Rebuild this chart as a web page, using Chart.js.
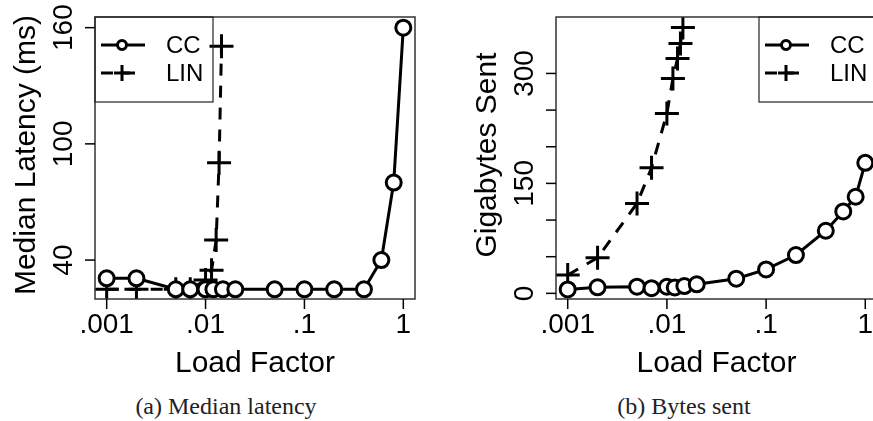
<!DOCTYPE html>
<html>
<head>
<meta charset="utf-8">
<script src="https://cdn.jsdelivr.net/npm/chart.js@4/dist/chart.umd.min.js"></script>
<style>
    html, body { margin: 0; padding: 0; background: #fff; overflow: hidden; }
    body { width: 873px; height: 421px; position: relative; }
    canvas { position: absolute; top: 0; }
    #latencyChart { left: 0; }
    #bytesChart { left: 440px; }
    .caption {
        position: absolute;
        top: 394px;
        width: 452px;
        text-align: center;
        font: 24px "Liberation Serif", "DejaVu Serif", serif;
        line-height: 24px;
        color: #222;
    }
</style>
</head>
<body>
<canvas id="latencyChart" width="440" height="380"></canvas>
<canvas id="bytesChart" width="445" height="380"></canvas>
<div class="caption" style="left: 0;">(a) Median latency</div>
<div class="caption" style="left: 458px;">(b) Bytes sent</div>

<script>
// load factors used for each run
const ccLoad = [0.001, 0.002, 0.005, 0.007, 0.01, 0.012, 0.015, 0.02, 0.05, 0.1, 0.2, 0.4, 0.6, 0.8, 1];
const linLoad = [0.001, 0.002, 0.005, 0.007, 0.01, 0.0115, 0.0128, 0.0137, 0.0145];

// (a) median latency, ms
const latencyCC = [30.6, 30.6, 24.9, 24.9, 24.9, 24.9, 24.9, 24.9, 24.9, 24.9, 24.9, 24.9, 40, 80, 160];
const latencyLIN = [24.9, 24.9, 24.9, 24.9, 29.7, 34.8, 50.3, 90.2, 150.4];

// (b) gigabytes sent
const bytesCC = [5.4, 8.2, 9.1, 7, 9, 8, 10, 12.3, 20, 32.7, 52.3, 85.4, 111.8, 131.8, 178];
const bytesLIN = [25, 48.6, 122.7, 171.3, 245.5, 293, 320.5, 341, 362.7];

// axis ticks
const xTicks = [0.001, 0.01, 0.1, 1];
const xTickLabels = ['.001', '.01', '.1', '1'];
const latencyTicks = [40, 100, 160];
const latencyTickLabels = ['40', '100', '160'];
const bytesTicks = [0, 50, 100, 150, 200, 250, 300];
const bytesTickLabels = ['0', '', '', '150', '', '', '300'];

const seriesNames = ['CC', 'LIN'];

const SANS = '"Liberation Sans", Arial, Helvetica, sans-serif';

function pts(xs, ys) {
    return xs.map((v, i) => ({ x: v, y: ys[i] }));
}

function strokeLine(ctx, x1, y1, x2, y2) {
    ctx.beginPath();
    ctx.moveTo(x1, y1);
    ctx.lineTo(x2, y2);
    ctx.stroke();
}

function drawSymbol(ctx, style, cx, cy, r) {
    ctx.beginPath();
    if (style === 'circle') {
        ctx.arc(cx, cy, r, 0, Math.PI * 2);
        ctx.fillStyle = '#fff';
        ctx.fill();
        ctx.stroke();
    } else {
        ctx.moveTo(cx - r, cy);
        ctx.lineTo(cx + r, cy);
        ctx.moveTo(cx, cy - r);
        ctx.lineTo(cx, cy + r);
        ctx.stroke();
    }
}

// R style box, ticks, labels and legend
const rAxesPlugin = {
    id: 'rAxes',
    afterDraw(chart, args, opts) {
        const ctx = chart.ctx;
        const a = chart.chartArea;
        const xs = chart.scales.x;
        const ys = chart.scales.y;
        ctx.save();

        ctx.strokeStyle = '#333';
        ctx.lineWidth = 1.5;
        ctx.strokeRect(a.left, a.top, a.right - a.left, a.bottom - a.top);

        ctx.strokeStyle = '#000';
        ctx.fillStyle = '#000';
        ctx.lineWidth = 1.5;

        // x axis
        ctx.font = '28px ' + SANS;
        ctx.textAlign = 'center';
        ctx.textBaseline = 'alphabetic';
        xTicks.forEach((v, i) => {
            const px = xs.getPixelForValue(v);
            strokeLine(ctx, px, a.bottom, px, a.bottom + 10);
            ctx.fillText(xTickLabels[i], px, a.bottom + 34);
        });
        ctx.font = '30px ' + SANS;
        ctx.fillText(opts.xTitle, (a.left + a.right) / 2, a.bottom + 73);

        // y axis
        ctx.font = '28px ' + SANS;
        opts.yTicks.forEach((v, i) => {
            const py = ys.getPixelForValue(v);
            strokeLine(ctx, a.left - 10, py, a.left, py);
            if (opts.yLabels[i]) {
                ctx.save();
                ctx.translate(a.left - 23, py);
                ctx.rotate(-Math.PI / 2);
                ctx.fillText(opts.yLabels[i], 0, 0);
                ctx.restore();
            }
        });
        ctx.save();
        ctx.font = '30px ' + SANS;
        ctx.translate(a.left - 60, (a.top + a.bottom) / 2 - 3);
        ctx.rotate(-Math.PI / 2);
        ctx.fillText(opts.yTitle, 0, 0);
        ctx.restore();

        // legend
        const lw = 118, lh = 85;
        const lx = opts.legendSide === 'left' ? a.left : a.right - lw;
        ctx.lineWidth = 1.2;
        ctx.strokeStyle = '#222';
        ctx.strokeRect(lx, a.top, lw, lh);
        ctx.font = '24px ' + SANS;
        ctx.textAlign = 'left';
        ctx.textBaseline = 'middle';
        chart.data.datasets.forEach((ds, i) => {
            const ly = a.top + 28 + i * 28;
            ctx.strokeStyle = '#000';
            ctx.lineWidth = 3;
            ctx.setLineDash(ds.borderDash || []);
            strokeLine(ctx, lx + 6, ly, lx + 50, ly);
            ctx.setLineDash([]);
            drawSymbol(ctx, ds.pointStyle, lx + 27, ly, ds.pointStyle === 'circle' ? 4.5 : 8);
            ctx.fillStyle = '#000';
            ctx.fillText(ds.label, lx + 71, ly + 1);
        });

        ctx.restore();
    }
};

function makeDatasets(ccY, linY) {
    return [
        {
            label: seriesNames[0],
            data: pts(ccLoad, ccY),
            borderColor: '#000',
            borderWidth: 3,
            pointStyle: 'circle',
            pointRadius: 7.5,
            pointBorderWidth: 3,
            pointBackgroundColor: '#fff',
            pointBorderColor: '#000',
            tension: 0
        },
        {
            label: seriesNames[1],
            data: pts(linLoad, linY),
            borderColor: '#000',
            borderWidth: 3,
            borderDash: [12, 10],
            pointStyle: 'cross',
            pointRadius: 12,
            pointBorderWidth: 3,
            pointBorderColor: '#000',
            tension: 0
        }
    ];
}

function makeChart(id, cfg) {
    return new Chart(document.getElementById(id), {
        type: 'line',
        data: { datasets: makeDatasets(cfg.cc, cfg.lin) },
        options: {
            responsive: false,
            animation: false,
            devicePixelRatio: 1,
            layout: {
                autoPadding: false,
                padding: { top: 17, right: cfg.padRight, left: 0, bottom: 0 }
            },
            plugins: {
                legend: { display: false },
                tooltip: { enabled: false },
                rAxes: {
                    xTitle: 'Load Factor',
                    yTitle: cfg.yTitle,
                    yTicks: cfg.yTicks,
                    yLabels: cfg.yLabels,
                    legendSide: cfg.legendSide
                }
            },
            scales: {
                x: {
                    type: 'logarithmic',
                    bounds: 'data',
                    min: 0.000762,
                    max: 1.313,
                    grid: { display: false },
                    border: { display: false },
                    ticks: { display: false },
                    afterFit: function(scale) { scale.height = 81; }
                },
                y: {
                    type: 'linear',
                    min: cfg.yMin,
                    max: cfg.yMax,
                    grid: { display: false },
                    border: { display: false },
                    ticks: { display: false },
                    afterFit: function(scale) { scale.width = cfg.axisWidth; }
                }
            }
        },
        plugins: [rAxesPlugin]
    });
}

makeChart('latencyChart', {
    cc: latencyCC,
    lin: latencyLIN,
    yMin: 19.9,
    yMax: 165.5,
    yTicks: latencyTicks,
    yLabels: latencyTickLabels,
    yTitle: 'Median Latency (ms)',
    legendSide: 'left',
    axisWidth: 95,
    padRight: 25
});

makeChart('bytesChart', {
    cc: bytesCC,
    lin: bytesLIN,
    yMin: -7.7,
    yMax: 377,
    yTicks: bytesTicks,
    yLabels: bytesTickLabels,
    yTitle: 'Gigabytes Sent',
    legendSide: 'right',
    axisWidth: 116,
    padRight: 8
});
</script>
</body>
</html>
